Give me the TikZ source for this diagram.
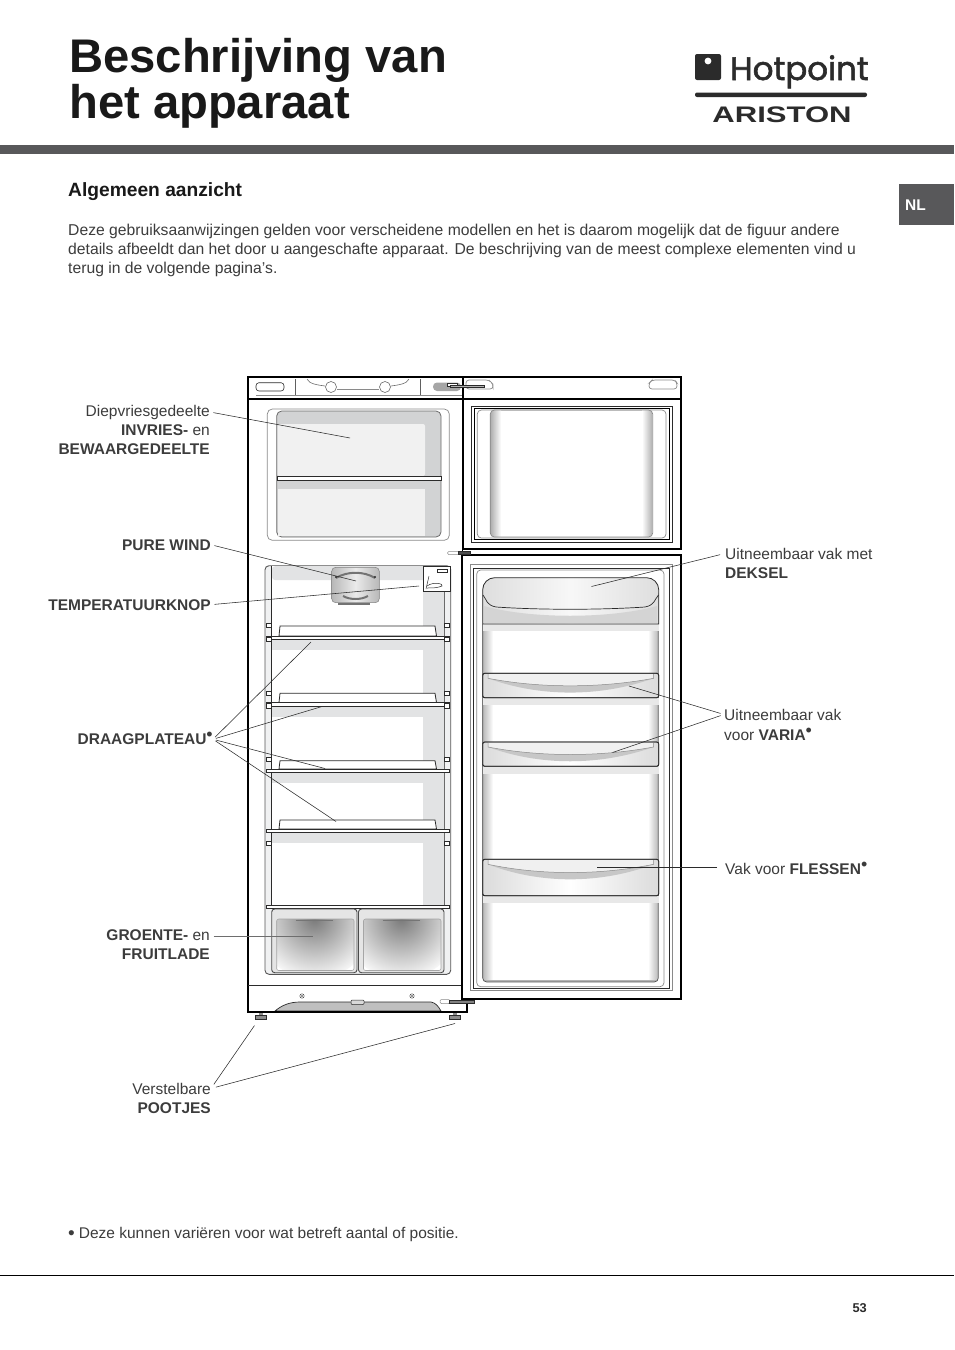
\documentclass[tikz,border=0pt]{standalone}
\usepackage{fontspec}
\usepackage{graphicx}
\usepackage{tikz}
\usetikzlibrary{positioning,calc}
\setmainfont{Liberation Sans}
\newfontfamily\logofont[FakeBold=1.8]{Poppins}
\definecolor{ink}     {HTML}{2B2B2B}
\definecolor{txtgray} {HTML}{3C3C3C}
\definecolor{bargray} {HTML}{58585A}
\definecolor{linegray}{HTML}{8A8A8A}
\definecolor{shelfgr} {HTML}{E2E3E4}
\definecolor{frzgray} {HTML}{D2D3D4}
\definecolor{frzpale} {HTML}{F1F1F1}
\newcommand{\supbul}{\raisebox{3.2pt}{\fontsize{18}{18}\selectfont •}}

\begin{document}
\begin{tikzpicture}[x=1pt,y=-1pt,
    lbl/.style={anchor=base east,inner sep=0pt,text=txtgray,font=\fontsize{15.5}{17}\selectfont},
    lblr/.style={anchor=base west,inner sep=0pt,text=txtgray,font=\fontsize{15.5}{17}\selectfont},
    leader/.style={draw=ink,line width=0.55pt,shorten <=3.5pt},
    wall/.style={draw=black,line width=1.9pt},
    thinl/.style={draw=linegray,line width=0.7pt},
    darkl/.style={draw=ink,line width=0.8pt},
    bin/.style={draw=ink,line width=0.8pt,rounded corners=2pt,left color=black!14,right color=black!14,middle color=white}]
  \useasboundingbox (0,0) rectangle (954,1350);

  % page head
  \node[anchor=base west,inner sep=0pt,text=black!90,font=\fontsize{47.2}{50}\bfseries\selectfont] (titleA) at (69,72) {Beschrijving van};
  \node[anchor=base west,inner sep=0pt,text=black!90,font=\fontsize{47.2}{50}\bfseries\selectfont] (titleB) at (69,118) {het apparaat};
  \fill[ink,rounded corners=2pt] (695,54) rectangle (721,80);
  \fill[white] (708,61) circle (3.4);
  \node[anchor=base west,inner sep=0pt,text=ink,font=\fontsize{32.5}{36}\selectfont] (logoA) at (730,80) {\logofont Hotpoint};
  \fill[ink,rounded corners=2pt] (695,92.5) rectangle (867,97);
  \node[anchor=base,inner sep=0pt,text=ink,font=\fontsize{22.5}{22}\bfseries\selectfont] (logoB) at (782,122) {\scalebox{1.38}[1]{ARISTON}};
  \fill[bargray] (0,145) rectangle (954,154);
  \fill[bargray] (899,184) rectangle (954,225);
  \node[anchor=base west,inner sep=0pt,text=white,font=\fontsize{15.5}{15}\bfseries\selectfont] (lang) at (905,210) {NL};

  % intro text
  \node[anchor=base west,inner sep=0pt,text=black!90,font=\fontsize{19.2}{20}\bfseries\selectfont] (head) at (68,196) {Algemeen aanzicht};
  \foreach \y/\nm/\lab in {235/introA/{Deze gebruiksaanwijzingen gelden voor verscheidene modellen en het is daarom mogelijk dat de figuur andere},
      254/introB/{details afbeeldt dan het door u aangeschafte apparaat. De beschrijving van de meest complexe elementen vind u},
      273/introC/{terug in de volgende pagina’s.}} {
    \node[lblr,font=\fontsize{15.7}{17}\selectfont] (\nm) at (68,\y) {\lab};
  }

  % freezer compartment
  \draw[thinl,rounded corners=5pt] (267.3,409) rectangle (449.3,540.3);
  \draw[fill=frzgray,draw=ink!70,line width=0.8pt,rounded corners=5pt] (276.7,411) rectangle (441,537);
  \fill[frzpale,rounded corners=2pt] (277.5,424) rectangle (425,476);
  \fill[frzpale] (277.5,489) rectangle (425,536.2);
  \draw[darkl,fill=white] (277,476.5) rectangle (441,480);

  % fridge compartment
  \draw[draw=ink!80,line width=0.9pt,rounded corners=4pt,fill=shelfgr!50] (265,565.7) rectangle (450.7,974.3);
  \fill[white] (271.3,566.2) rectangle (444,905);
  \fill[shelfgr,rounded corners=3pt] (272,566.2) rectangle (444,580);
  \fill[shelfgr] (423,566.2) rectangle (444,905);
  \foreach \sy/\ey in {639/650,706/717,773/783,832/843} {
    \fill[shelfgr] (272,\sy) rectangle (444,\ey);
  }
  \draw[ink,line width=0.8pt] (271.3,566) -- (271.3,909);
  \draw[ink!70,line width=0.8pt] (444,566) -- (444,909);
  \foreach \sy/\ty in {636/626,702.5/693.3,769/760.7,829/820} {
    \draw[darkl,fill=white] (279,\sy) -- (280,\ty) -- (435,\ty) -- (436.5,\sy) -- cycle;
    \draw[darkl,fill=white] (266,\sy) rectangle (449,\sy+3.5);
  }
  \draw[darkl,fill=white] (266,905) rectangle (449,908.5);
  \foreach \sy in {623,637,691,703.5,757,841} {
    \draw[ink,line width=0.6pt,fill=white] (266,\sy) rectangle (271,\sy+4.5);
    \draw[ink,line width=0.6pt,fill=white] (444.5,\sy) rectangle (449,\sy+4.5);
  }

  % crispers
  \foreach \xa/\xb in {271.7/357,358.5/444} {
    \draw[draw=ink!85,fill=black!10,line width=0.9pt,rounded corners=3pt] (\xa,909) rectangle (\xb,972.7);
    \begin{scope}
      \clip[rounded corners=2pt] (\xa+5,919) rectangle (\xb-3,970.5);
      \fill[white] (\xa+5,919) rectangle (\xb-3,970.5);
      \shade[inner color=black!52,outer color=black!3] ($(\xa,919)!0.5!(\xb,919)$) circle (60);
    \end{scope}
    \draw[black!35,line width=0.6pt,rounded corners=2pt] (\xa+5,919) rectangle (\xb-3,970.5);
    \draw[ink!65,line width=1pt] ($(\xa,920.5)!0.5!(\xb,920.5)+(-18.5,0)$) -- ++(37,0);
  }

  % control band and knob
  \draw[ink,line width=0.6pt,rounded corners=3pt] (256,382.7) rectangle (284,391);
  \draw[ink!75,line width=0.6pt] (295.3,379) -- (295.3,395);
  \draw[ink!75,line width=0.6pt] (420.7,379) -- (420.7,395);
  \draw[linegray,line width=0.7pt] (256,395.5) -- (462,395.5);
  \draw[ink!70,line width=0.6pt] (307,379) .. controls (309,384) and (318,385) .. (325,386);
  \draw[ink!70,line width=0.6pt] (409,379) .. controls (407,384) and (398,385) .. (391,386);
  \draw[linegray,line width=0.5pt] (337,389) -- (379,389);
  \draw[ink!70,line width=0.6pt] (331,387) circle (5.5);
  \draw[ink!70,line width=0.6pt] (385,387) circle (5.5);
  \fill[black!35,rounded corners=4pt] (433,382.5) rectangle (461,391);
  \draw[thinl,rounded corners=3pt] (466,389) -- (466,380) -- (489,380) -- (493,384) -- (493,389) -- cycle;
  \draw[thinl,rounded corners=3pt] (649,389) -- (649,383) -- (652,380) -- (675,380) -- (677,383) -- (677,389) -- cycle;

  \draw[draw=black!50,left color=black!28,right color=black!28,middle color=black!8,line width=0.5pt,rounded corners=4pt] (331.7,567.3) rectangle (379.3,602.7);
  \draw[black!55,line width=2pt] (336,578) .. controls (347,571) and (364,571) .. (375,578);
  \draw[black!55,line width=2pt] (343,596) .. controls (350,600) and (361,600) .. (368,596);
  \fill[ink] (336,577) circle (1.2);
  \fill[ink] (375,577) circle (1.2);
  \draw[black!55,line width=1.2pt] (338,604) -- (370,604);
  \draw[ink,line width=0.7pt,fill=white] (423.7,566) -- (450,566) -- (450,591.7) -- (423.7,591.7) -- cycle;
  \draw[ink,line width=0.5pt] (437.5,569) rectangle (447,572.5);
  \draw[ink,line width=0.5pt] (426,589) -- (429,576);
  \draw[ink,line width=0.5pt] (427,586) .. controls (434,581) and (444,584) .. (442,586) .. controls (438,588) and (431,588) .. (427,588);

  % freezer door
  \draw[ink,line width=0.6pt] (471.7,406) rectangle (672.7,542.7);
  \draw[black,line width=1.1pt] (474.7,408.3) rectangle (669.3,539.3);
  \draw[thinl,rounded corners=4pt] (477.3,410) rectangle (666,538);
  \begin{scope}
    \clip[rounded corners=4pt] (490.3,410) rectangle (652.7,537);
    \shade[left color=black!32,right color=white] (490.3,410) rectangle (501,537);
    \shade[right color=black!32,left color=white] (642,410) rectangle (652.7,537);
  \end{scope}
  \draw[linegray,line width=0.7pt,rounded corners=4pt] (490.3,410) rectangle (652.7,537);

  % fridge door
  \draw[thinl] (470.7,564.3) rectangle (672.7,990.7);
  \draw[ink,line width=0.7pt] (473.3,568.7) rectangle (669.3,988.7);
  \draw[thinl,rounded corners=4pt] (476.7,570) rectangle (664,986.7);
  \begin{scope}
    \clip[rounded corners=4pt] (482.7,590) rectangle (658.3,982);
    \shade[left color=black!28,right color=white] (482.7,590) rectangle (493,982);
    \shade[right color=black!28,left color=white] (648,590) rectangle (658.3,982);
    \fill[black!30] (482.7,979.5) rectangle (658.3,982);
  \end{scope}
  \draw[draw=ink!80,line width=0.7pt,rounded corners=4pt] (482.7,590) rectangle (658.3,982);
  % door bins
  \fill[black!9] (483,624) rectangle (658.7,631);
  \draw[draw=ink,line width=0.8pt,left color=black!13,right color=black!13,middle color=black!3] (482.7,624) [rounded corners=12pt] -- (482.7,577.7) -- (658.7,577.7) [sharp corners] -- (658.7,624) -- cycle;
  \fill[black!17] (484,606) .. controls (530,619) and (610,619) .. (657,606) -- (657,623) -- (484,623) -- cycle;
  \draw[ink,line width=0.7pt] (483,595) .. controls (487,600) and (486,605) .. (496,607) .. controls (540,610) and (600,610) .. (645,607) .. controls (655,605) and (654,600) .. (658.5,595);
  \foreach \ty/\by/\dep in {673.3/697.7/24,742/766.3/24,859.3/895.7/25} {
    \fill[black!9] (483,\by) rectangle (658.7,\by+7.5);
    \path[bin] (482.7,\ty) rectangle (658.7,\by);
    \fill[black!22] (488,\ty+0.8) -- (488,\ty+5) .. controls (540,\ty+\dep) and (600,\ty+\dep) .. (653.5,\ty+5) -- (653.5,\ty+0.8) -- cycle;
    \fill[black!6] (488,\ty+0.8) -- (488,\ty+5) .. controls (540,\ty+\dep-9) and (600,\ty+\dep-9) .. (653.5,\ty+5) -- (653.5,\ty+0.8) -- cycle;
    \draw[linegray,line width=0.5pt] (488,\ty+0.8) -- (488,\ty+5) .. controls (540,\ty+\dep-9) and (600,\ty+\dep-9) .. (653.5,\ty+5) -- (653.5,\ty+0.8);
    \draw[ink,line width=0.8pt,rounded corners=2pt] (482.7,\ty) rectangle (658.7,\by);
  }

  % base and feet
  \draw[ink,line width=0.7pt,fill=black!25] (275,1011) .. controls (282,1005) and (290,1002) .. (300,1002) -- (431,1002) .. controls (436,1003) and (438,1006) .. (441,1011) -- cycle;
  \draw[ink,line width=0.5pt,fill=black!15,rounded corners=1pt] (351,1000) rectangle (364,1004.5);
  \foreach \fx in {302,412} {
    \draw[ink,line width=0.4pt] (\fx,996) circle (2.2);
    \fill[ink] (\fx,996) circle (0.8);
  }
  \foreach \fx in {261,455} {
    \fill[black!45] (\fx-2,1012) rectangle (\fx+2,1016);
    \draw[ink,line width=0.6pt,fill=black!45] (\fx-5.5,1015.5) rectangle (\fx+5.5,1019.5);
  }

  % body walls
  \draw[wall] (462.7,399) -- (462.7,377.3) -- (248.3,377.3) -- (248.3,1011.7) -- (467.3,1011.7) -- (467.3,999.3);
  \draw[wall] (462.7,377.3) rectangle (680.7,549.3);
  \draw[wall,line width=1.5pt] (248.3,399) -- (680.7,399);
  \draw[ink,line width=0.9pt] (248.3,985) -- (462,985);
  \draw[black,line width=0.8pt] (462.7,399) -- (462.7,555);
  \draw[wall] (462,555) rectangle (680.7,999.3);

  % hinges
  \draw[ink,line width=0.6pt,fill=white] (447,383.5) rectangle (457,386.5);
  \draw[ink,line width=0.6pt,fill=black!30] (450,385) rectangle (484.5,387.5);
  \draw[linegray,line width=0.5pt,fill=white,rounded corners=1.2pt] (447.5,551.5) rectangle (460,554.5);
  \draw[ink,line width=0.6pt,fill=black!70] (458,551) rectangle (470.5,554);
  \draw[linegray,line width=0.5pt,fill=white,rounded corners=1.2pt] (440,999.5) rectangle (450,1003.5);
  \draw[ink,line width=0.6pt,fill=black!50] (449.5,1000) rectangle (474.5,1003);

  % leader ends
  \coordinate (endFrz) at (350,438);
  \coordinate (endWind) at (356,581);
  \coordinate (endKnop) at (419,586);
  \coordinate (endPlatA) at (311,642);
  \coordinate (endPlatB) at (322,706.5);
  \coordinate (endPlatC) at (325,768.5);
  \coordinate (endPlatD) at (336,821.5);
  \coordinate (endLade) at (313,936);
  \coordinate (endPootA) at (254.5,1025.5);
  \coordinate (endPootB) at (455,1023.5);
  \coordinate (endDeksel) at (591.5,586.5);
  \coordinate (endVariaA) at (629,686);
  \coordinate (endVariaB) at (612.5,752.5);
  \coordinate (endFles) at (597,867);

  % labels left
  \node[lbl] (lblFrz) at (210,416) {Diepvriesgedeelte};
  \node[lbl] (lblFrzB) at (210,435) {\textbf{INVRIES-} en};
  \node[lbl] (lblFrzC) at (210,454) {\textbf{BEWAARGEDEELTE}};
  \node[lbl] (lblWind) at (211,550) {\textbf{PURE WIND}};
  \node[lbl] (lblKnop) at (211,610) {\textbf{TEMPERATUURKNOP}};
  \node[lbl] (lblPlat) at (213,744) {\textbf{DRAAGPLATEAU}\supbul};
  \node[lbl] (lblLade) at (210,940) {\textbf{GROENTE-} en};
  \node[lbl] (lblLadeB) at (210,959) {\textbf{FRUITLADE}};
  \node[lbl] (lblPoot) at (211,1094) {Verstelbare};
  \node[lbl] (lblPootB) at (211,1113) {\textbf{POOTJES}};
  % labels right
  \node[lblr] (lblDeksel) at (725,559) {Uitneembaar vak met};
  \node[lblr] (lblDekselB) at (725,578) {\textbf{DEKSEL}};
  \node[lblr] (lblVaria) at (724,720) {Uitneembaar vak};
  \node[lblr] (lblVariaB) at (724,740) {voor \textbf{VARIA}\supbul};
  \node[lblr] (lblFles) at (725,874) {Vak voor \textbf{FLESSEN}\supbul};

  % leaders
  \draw[leader] (lblFrz.east) -- (endFrz);
  \draw[leader] (lblWind.east) -- (endWind);
  \draw[leader] (lblKnop.east) -- (endKnop);
  \foreach \e in {endPlatA,endPlatB,endPlatC,endPlatD} {
    \draw[leader,shorten <=3pt] ($(lblPlat.east)+(0,1)$) -- (\e);
  }
  \draw[leader,draw=linegray!80!black] (lblLade.east |- endLade) -- (endLade);
  \draw[leader,shorten <=5pt] (lblPoot.east) -- (endPootA);
  \draw[leader,shorten <=5pt] (lblPoot.east) -- (endPootB);
  \draw[leader,shorten <=5pt] (lblDeksel.west) -- (endDeksel);
  \draw[leader] (lblVaria.west) -- (endVariaA);
  \draw[leader] (lblVaria.west) -- (endVariaB);
  \draw[leader,shorten <=8pt] (lblFles.west |- endFles) -- (endFles);

  % foot of page
  \node[lblr] (note) at (68,1238) {\raisebox{-1pt}{\fontsize{19}{19}\selectfont •}\hspace{4pt}Deze kunnen variëren voor wat betreft aantal of positie.};
  \draw[black,line width=1.6pt] (0,1275.5) -- (954,1275.5);
  \node[anchor=base east,inner sep=0pt,text=ink,font=\fontsize{12.8}{14}\bfseries\selectfont] (pageno) at (867,1312) {53};
\end{tikzpicture}
\end{document}
